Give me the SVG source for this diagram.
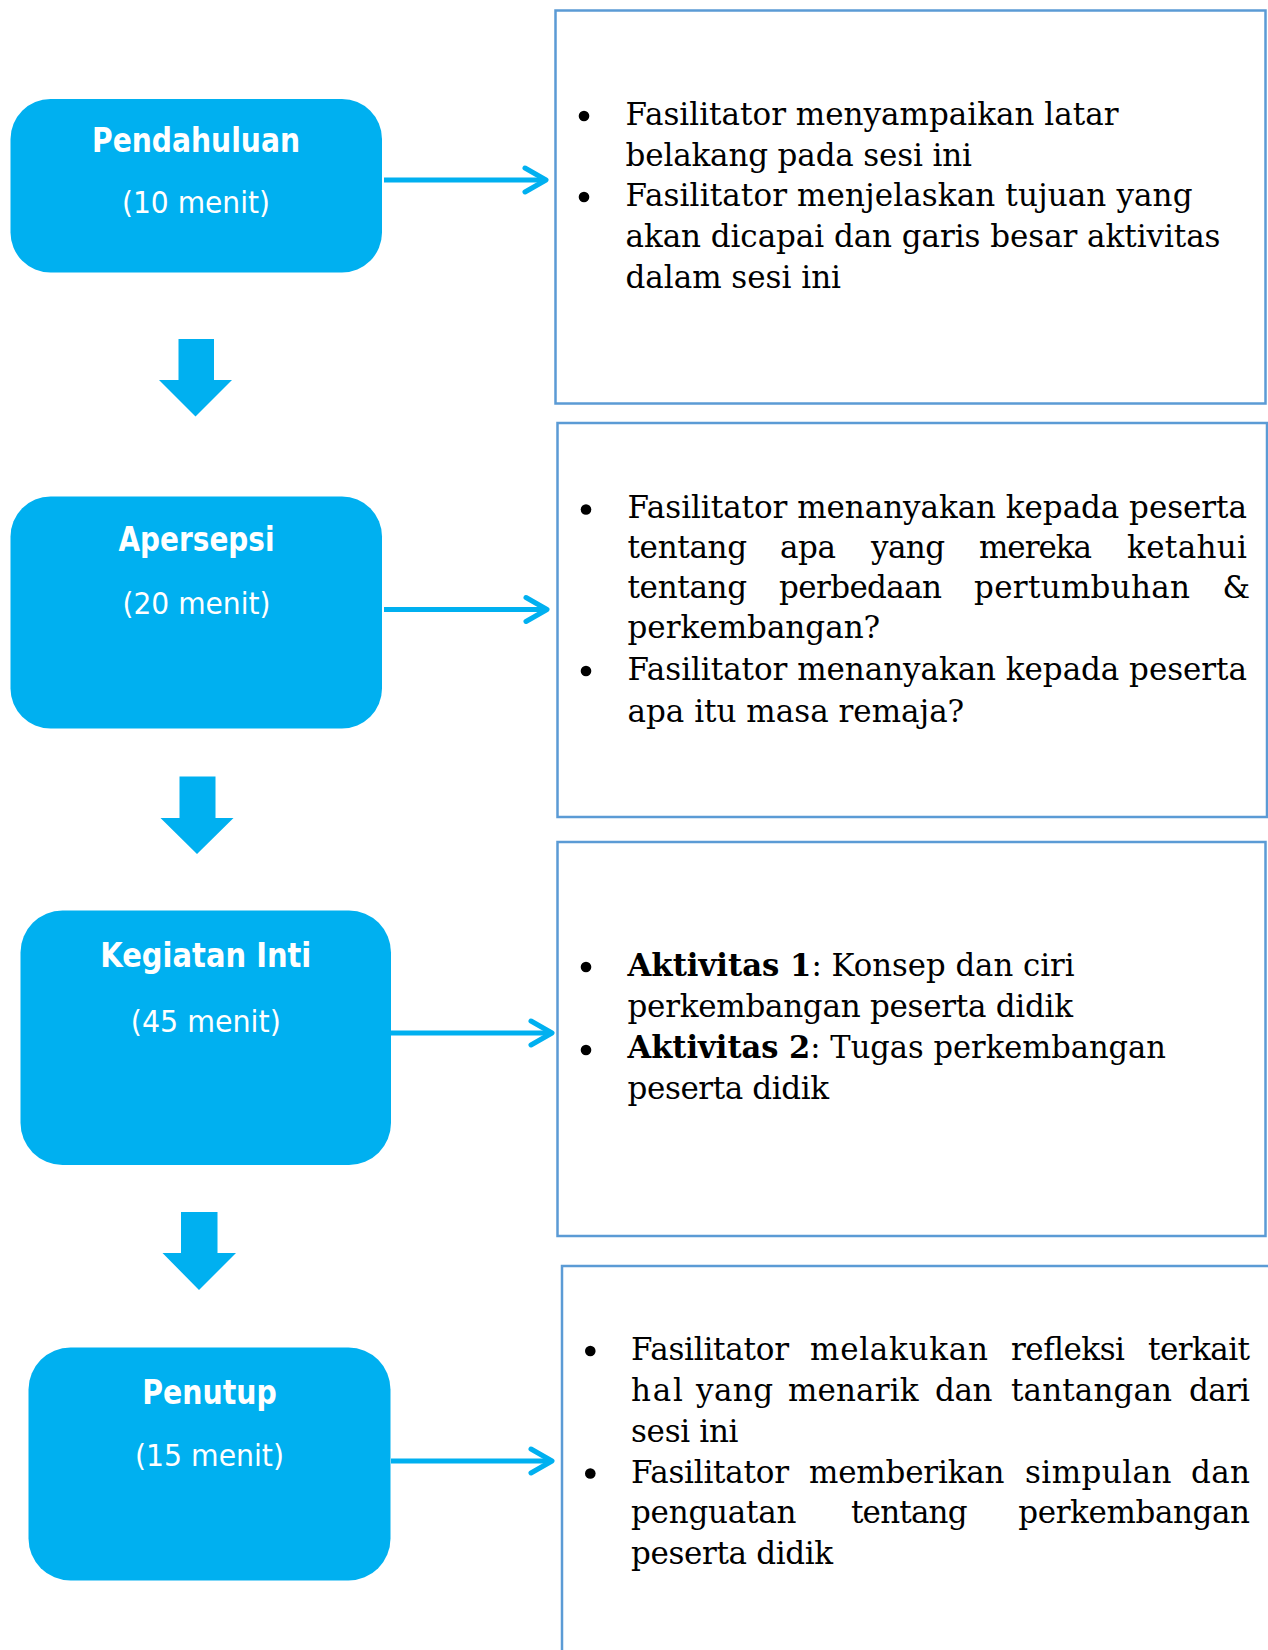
<svg xmlns="http://www.w3.org/2000/svg" width="1268" height="1650" viewBox="0 0 1268 1650">
  <style>
    .node { fill: #00B0F0; }
    .title { font-family: "DejaVu Sans", Verdana, sans-serif; font-weight: bold; font-size: 33px; fill: #FFFFFF; text-anchor: middle; }
    .dur { font-family: "DejaVu Sans", Verdana, sans-serif; font-size: 30px; fill: #FFFFFF; text-anchor: middle; }
    .panel { fill: #FFFFFF; stroke: #5B9BD5; stroke-width: 2.5; }
    .body { font-family: "DejaVu Serif", "Liberation Serif", serif; font-size: 31px; fill: #000000; }
    .strong { font-weight: bold; }
    .dot { fill: #000000; }
    .link { fill: none; stroke: #00B0F0; stroke-width: 5; }
    .head { fill: none; stroke: #00B0F0; stroke-width: 5; stroke-linecap: round; stroke-linejoin: round; }
    .step { fill: #00B0F0; }
  </style>
  <rect width="1268" height="1650" fill="#FFFFFF"/>

  <!-- stage blocks -->
  <g id="node-pendahuluan">
    <rect class="node" x="10.5" y="99" width="371.5" height="173.5" rx="40" ry="40"/>
    <text class="title" x="196" y="151.5" textLength="208" lengthAdjust="spacingAndGlyphs">Pendahuluan</text>
    <text class="dur" x="196" y="212.5" textLength="148" lengthAdjust="spacingAndGlyphs">(10 menit)</text>
  </g>
  <g id="node-apersepsi">
    <rect class="node" x="10.5" y="496.5" width="371.5" height="232" rx="40" ry="40"/>
    <text class="title" x="196.5" y="550.5" textLength="156" lengthAdjust="spacingAndGlyphs">Apersepsi</text>
    <text class="dur" x="196.5" y="613.5" textLength="148" lengthAdjust="spacingAndGlyphs">(20 menit)</text>
  </g>
  <g id="node-kegiatan-inti">
    <rect class="node" x="20.5" y="910.5" width="370.5" height="254.5" rx="42" ry="42"/>
    <text class="title" x="205.8" y="967" textLength="211" lengthAdjust="spacingAndGlyphs">Kegiatan Inti</text>
    <text class="dur" x="205.8" y="1031.5" textLength="150" lengthAdjust="spacingAndGlyphs">(45 menit)</text>
  </g>
  <g id="node-penutup">
    <rect class="node" x="28.5" y="1347.5" width="362" height="233" rx="42" ry="42"/>
    <text class="title" x="209.5" y="1404" textLength="134.5" lengthAdjust="spacingAndGlyphs">Penutup</text>
    <text class="dur" x="209.5" y="1465.5" textLength="149" lengthAdjust="spacingAndGlyphs">(15 menit)</text>
  </g>

  <!-- activity panels -->
  <g id="panel-pendahuluan">
    <rect class="panel" x="555.5" y="10.5" width="710" height="393"/>
    <circle class="dot" cx="584" cy="116" r="5.3"/>
    <circle class="dot" cx="584" cy="197" r="5.3"/>
    <text class="body" x="625.5" y="124.5" textLength="493">Fasilitator menyampaikan latar</text>
    <text class="body" x="625.5" y="165.5" textLength="346.5">belakang pada sesi ini</text>
    <text class="body" x="625.5" y="206" textLength="567">Fasilitator menjelaskan tujuan yang</text>
    <text class="body" x="625.5" y="247" textLength="595">akan dicapai dan garis besar aktivitas</text>
    <text class="body" x="625.5" y="288" textLength="215.5">dalam sesi ini</text>
  </g>
  <g id="panel-apersepsi">
    <rect class="panel" x="557.5" y="423" width="709.5" height="394"/>
    <circle class="dot" cx="586" cy="509.5" r="5.3"/>
    <circle class="dot" cx="586" cy="671" r="5.3"/>
    <text class="body" x="627.5" y="518" textLength="619.5">Fasilitator menanyakan kepada peserta</text>
    <!-- justified line: one text per word -->
    <text class="body" x="627.5" y="558" textLength="119.5">tentang</text>
    <text class="body" x="780" y="558" textLength="56">apa</text>
    <text class="body" x="871" y="558" textLength="74">yang</text>
    <text class="body" x="979" y="558" textLength="113">mereka</text>
    <text class="body" x="1127" y="558" textLength="120">ketahui</text>
    <text class="body" x="627.5" y="598" textLength="119.5">tentang</text>
    <text class="body" x="779" y="598" textLength="163">perbedaan</text>
    <text class="body" x="974" y="598" textLength="216">pertumbuhan</text>
    <text class="body" x="1222.6" y="598" textLength="24.4">&amp;</text>
    <text class="body" x="627.5" y="638">perkembangan?</text>
    <text class="body" x="627.5" y="679.5" textLength="619.5">Fasilitator menanyakan kepada peserta</text>
    <text class="body" x="627.5" y="721.5">apa itu masa remaja?</text>
  </g>
  <g id="panel-kegiatan-inti">
    <rect class="panel" x="557.5" y="842" width="708" height="394"/>
    <circle class="dot" cx="586" cy="967" r="5.3"/>
    <circle class="dot" cx="586" cy="1050" r="5.3"/>
    <text class="body" x="627.5" y="975.5" textLength="447" lengthAdjust="spacingAndGlyphs"><tspan class="strong">Aktivitas 1</tspan>: Konsep dan ciri</text>
    <text class="body" x="627.5" y="1016.5" textLength="445.5">perkembangan peserta didik</text>
    <text class="body" x="627.5" y="1058" textLength="538.5" lengthAdjust="spacingAndGlyphs"><tspan class="strong">Aktivitas 2</tspan>: Tugas perkembangan</text>
    <text class="body" x="627.5" y="1099" textLength="201.5">peserta didik</text>
  </g>
  <g id="panel-penutup">
    <rect class="panel" x="562" y="1266" width="712" height="400"/>
    <circle class="dot" cx="590.3" cy="1351" r="5.3"/>
    <circle class="dot" cx="590.3" cy="1473.5" r="5.3"/>
    <text class="body" x="631" y="1360" textLength="158">Fasilitator</text>
    <text class="body" x="810" y="1360" textLength="178">melakukan</text>
    <text class="body" x="1011" y="1360" textLength="114">refleksi</text>
    <text class="body" x="1148" y="1360" textLength="102">terkait</text>
    <text class="body" x="631" y="1401" textLength="52">hal</text>
    <text class="body" x="696" y="1401" textLength="77">yang</text>
    <text class="body" x="788" y="1401" textLength="130.5">menarik</text>
    <text class="body" x="935" y="1401" textLength="57.5">dan</text>
    <text class="body" x="1011" y="1401" textLength="161">tantangan</text>
    <text class="body" x="1189" y="1401" textLength="61">dari</text>
    <text class="body" x="631" y="1441.5" textLength="107.5">sesi ini</text>
    <text class="body" x="631" y="1482.5" textLength="158">Fasilitator</text>
    <text class="body" x="809" y="1482.5" textLength="195.5">memberikan</text>
    <text class="body" x="1025" y="1482.5" textLength="146.5">simpulan</text>
    <text class="body" x="1191" y="1482.5" textLength="59">dan</text>
    <text class="body" x="631" y="1523" textLength="165.5">penguatan</text>
    <text class="body" x="851" y="1523" textLength="116.5">tentang</text>
    <text class="body" x="1018.3" y="1523" textLength="231.7">perkembangan</text>
    <text class="body" x="631" y="1564" textLength="202">peserta didik</text>
  </g>

  <!-- connectors: stage-to-panel arrows and downward step arrows -->
  <g id="connectors">
    <path class="link" d="M384 180 H545"/>
    <path class="head" d="M525 168 L546 180 L525 192"/>
    <path class="link" d="M384 609.5 H546"/>
    <path class="head" d="M526 597.5 L547 609.5 L526 621.5"/>
    <path class="link" d="M391 1033 H551"/>
    <path class="head" d="M531 1021 L552 1033 L531 1045"/>
    <path class="link" d="M391 1461 H551"/>
    <path class="head" d="M531 1449 L552 1461 L531 1473"/>

    <polygon class="step" points="178.5,339 214,339 214,380 232,380 195.5,416.5 159,380 178.5,380"/>
    <polygon class="step" points="179.5,776.5 215.5,776.5 215.5,818 233.5,818 197,854 160.5,818 179.5,818"/>
    <polygon class="step" points="181,1212 217.5,1212 217.5,1253 236,1253 199,1290 162.5,1253 181,1253"/>
  </g>
</svg>
